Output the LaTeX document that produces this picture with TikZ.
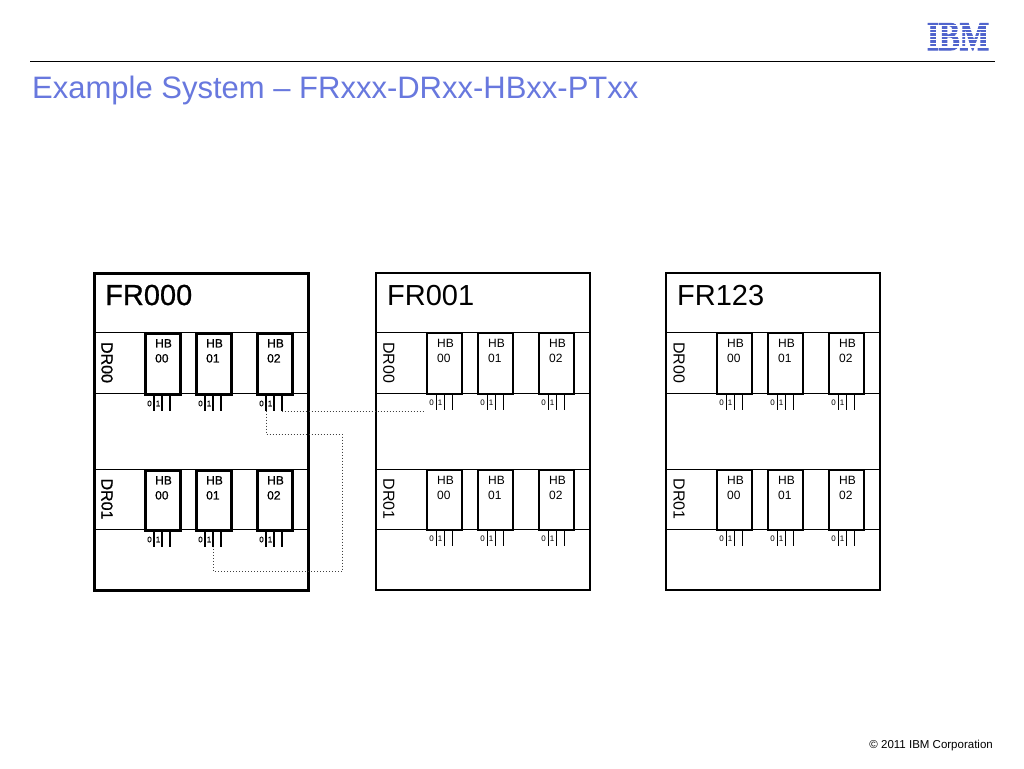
\documentclass[tikz,border=0pt]{standalone}
\usepackage{fontspec}
\setmainfont{Liberation Sans}
\newfontfamily\normfont{Liberation Sans}
\newfontfamily\boldish[FakeBold=0.8]{Liberation Sans}
\newfontfamily\ibmfont[FakeBold=2.5]{Liberation Serif Bold}
\usetikzlibrary{calc}
\definecolor{titleblue}{RGB}{104,120,222}
\definecolor{ibmblue}{RGB}{80,100,205}
\tikzset{
  framebox/.style={draw, fill=white, anchor=north west, minimum width=214pt, minimum height=317pt, inner sep=0pt},
  hbbox/.style={draw, anchor=north west, minimum width=35pt, minimum height=61pt, inner sep=0pt},
  hbtext/.style={anchor=north west, inner sep=0pt, align=left, font=\fontsize{12}{15}\selectfont},
  drtext/.style={rotate=-90, inner sep=0pt, font=\fontsize{16}{18}\selectfont},
  frtext/.style={anchor=base west, inner sep=0pt, font=\fontsize{29}{32}\selectfont},
  porttext/.style={inner sep=0pt, font=\fontsize{8}{9}\selectfont},
  link/.style={draw=black!75, dotted, line width=1pt},
}
\begin{document}
\begin{tikzpicture}[x=1pt,y=-1pt]
\useasboundingbox[fill=white] (0,0) rectangle (1024,768);
% header
\draw[line width=1pt] (30,61) -- (995,61);
\node[anchor=base west, inner sep=0pt, text=titleblue, font=\fontsize{31}{34}\selectfont] (title) at (32,98) {Example System -- FRxxx-DRxx-HBxx-PTxx};
\node[anchor=base, inner sep=0pt, text=ibmblue, xscale=0.76, font=\ibmfont\fontsize{40.8}{42}\selectfont] (ibm) at (958,50) {IBM};
\foreach \yy in {25.35,28.87,32.4,35.9,39.4,42.9,46.5}
  \fill[white] (920,\yy) rectangle (1000,{\yy+1.1});
\node[anchor=base east, inner sep=0pt, font=\fontsize{11.5}{13}\selectfont] (copy) at (993,748) {\textcopyright{} 2011 IBM Corporation};
% frames
\foreach \i/\L/\nm/\fw/\hw/\pw/\ff in {0/93/FR000/3/2.5/1.5/\boldish, 1/375/FR001/2/2/1/\normfont, 2/665/FR123/2/2/1/\normfont}{
  \node[framebox, line width=\fw pt] (fr\i) at (\L,272) {};
  \node[frtext, font=\ff\fontsize{29}{32}\selectfont] (fr\i t) at ({\L+12},305) {\nm};
  \foreach \d/\top/\bot in {0/332/393, 1/469/529}{
    \draw[line width=1pt] (\L,\top) -- ({\L+214},\top);
    \draw[line width=1pt] (\L,\bot) -- ({\L+214},\bot);
    \node[drtext, font=\ff\fontsize{16}{18}\selectfont] (f\i-dr\d) at ({\L+14},{(\top+\bot)/2}) {DR0\d};
    \foreach \h/\off in {0/51, 1/102, 2/163}{
      \node[hbbox, line width=\hw pt, minimum height={\bot-\top}] (f\i-d\d-h\h) at ({\L+\off},\top) {};
      \node[hbtext, font=\ff\fontsize{12}{15}\selectfont] (f\i-d\d-h\h-t) at ({\L+\off+11},{\top+7}) {HB\\0\h};
      \foreach \k/\px in {1/10, 2/18, 3/26}{
        \coordinate (f\i-d\d-h\h-p\k) at ($(f\i-d\d-h\h.south west)+(\px,15)$);
        \draw[line width=\pw pt] ($(f\i-d\d-h\h.south west)+(\px,0)$) -- (f\i-d\d-h\h-p\k);
      }
      \node[porttext, font=\ff\fontsize{8}{9}\selectfont] (f\i-d\d-h\h-l0) at ($(f\i-d\d-h\h.south west)+(5.5,8)$) {0};
      \node[porttext, font=\ff\fontsize{8}{9}\selectfont] (f\i-d\d-h\h-l1) at ($(f\i-d\d-h\h.south west)+(14,8)$) {1};
    }
  }
}
% connections
\coordinate (f1in) at ($(f1-d0-h0.south west)+(-2,16)$);
\draw[link] ($(f0-d0-h2-p3)+(0,1)$) -- (f0-d0-h2-p3 |- f1in) -- (f1in);
\coordinate (c1) at (342,434);
\coordinate (c2) at (342,571);
\draw[link] (f0-d0-h2-p1) |- (c1) -- (c2) -| (f0-d1-h1-p2);
\end{tikzpicture}
\end{document}
